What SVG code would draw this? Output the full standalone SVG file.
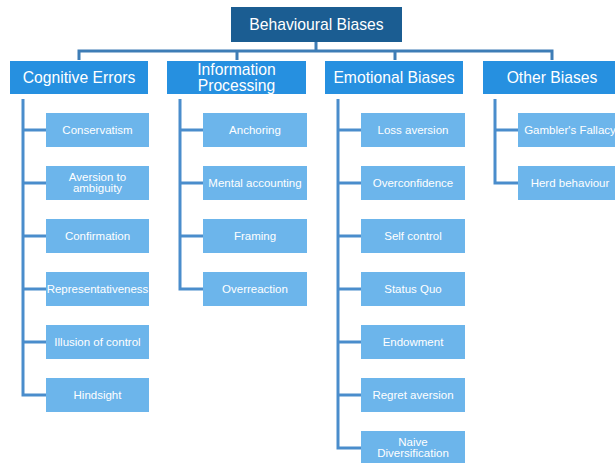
<svg xmlns="http://www.w3.org/2000/svg" width="615" height="463" viewBox="0 0 615 463">
<style>
text{font-family:"Liberation Sans",Arial,sans-serif;fill:#fff;text-anchor:middle}
.top rect{fill:#1b5d92}
.cat rect{fill:#2690e0}
.cat text,.top text{font-size:15.7px}
.leaf rect{fill:#6cb5eb}
.leaf text{font-size:11.5px}
.conn path{fill:none;stroke:#4a8dcc;stroke-width:3}
.conn .main{stroke:#3e7db6}
</style>
<rect width="615" height="463" fill="#fff"/>
<g class="conn" id="connectors">
<path class="main" d="M316,42V51M79,60V51H552V60M237,51V60M395,51V60"/>
<path d="M23,99V395H46M23,130H46M23,183H46M23,236H46M23,289H46M23,342H46"/>
<path d="M180,99V289H203M180,130H203M180,183H203M180,236H203"/>
<path d="M338,99V448H361M338,130H361M338,183H361M338,236H361M338,289H361M338,342H361M338,395H361"/>
<path d="M495,99V183H518M495,130H518"/>
</g>
<g class="top" id="behavioural-biases"><rect x="231" y="7" width="171" height="35"/><text x="316.5" y="30">Behavioural Biases</text></g>
<g class="cat" id="cognitive-errors"><rect x="10" y="61" width="138" height="33"/><text x="79" y="83">Cognitive Errors</text></g>
<g class="cat" id="information-processing"><rect x="167" y="61" width="139" height="33"/><text x="236.5" y="75">Information</text><text x="236.5" y="91">Processing</text></g>
<g class="cat" id="emotional-biases"><rect x="325" y="61" width="138" height="33"/><text x="394" y="83">Emotional Biases</text></g>
<g class="cat" id="other-biases"><rect x="483" y="61" width="140" height="33"/><text x="552" y="83">Other Biases</text></g>

<g class="leaf" id="conservatism"><rect x="46" y="113" width="103" height="34"/><text x="97.5" y="134">Conservatism</text></g>
<g class="leaf" id="aversion-to-ambiguity"><rect x="46" y="166" width="103" height="34"/><text x="97.5" y="181">Aversion to</text><text x="97.5" y="192">ambiguity</text></g>
<g class="leaf" id="confirmation"><rect x="46" y="219" width="103" height="34"/><text x="97.5" y="240">Confirmation</text></g>
<g class="leaf" id="representativeness"><rect x="46" y="272" width="103" height="34"/><text x="97.5" y="293">Representativeness</text></g>
<g class="leaf" id="illusion-of-control"><rect x="46" y="325" width="103" height="34"/><text x="97.5" y="346">Illusion of control</text></g>
<g class="leaf" id="hindsight"><rect x="46" y="378" width="103" height="34"/><text x="97.5" y="399">Hindsight</text></g>

<g class="leaf" id="anchoring"><rect x="203" y="113" width="104" height="34"/><text x="255" y="134">Anchoring</text></g>
<g class="leaf" id="mental-accounting"><rect x="203" y="166" width="104" height="34"/><text x="255" y="187">Mental accounting</text></g>
<g class="leaf" id="framing"><rect x="203" y="219" width="104" height="34"/><text x="255" y="240">Framing</text></g>
<g class="leaf" id="overreaction"><rect x="203" y="272" width="104" height="34"/><text x="255" y="293">Overreaction</text></g>

<g class="leaf" id="loss-aversion"><rect x="361" y="113" width="104" height="34"/><text x="413" y="134">Loss aversion</text></g>
<g class="leaf" id="overconfidence"><rect x="361" y="166" width="104" height="34"/><text x="413" y="187">Overconfidence</text></g>
<g class="leaf" id="self-control"><rect x="361" y="219" width="104" height="34"/><text x="413" y="240">Self control</text></g>
<g class="leaf" id="status-quo"><rect x="361" y="272" width="104" height="34"/><text x="413" y="293">Status Quo</text></g>
<g class="leaf" id="endowment"><rect x="361" y="325" width="104" height="34"/><text x="413" y="346">Endowment</text></g>
<g class="leaf" id="regret-aversion"><rect x="361" y="378" width="104" height="34"/><text x="413" y="399">Regret aversion</text></g>
<g class="leaf" id="naive-diversification"><rect x="361" y="431" width="104" height="34"/><text x="413" y="446">Naive</text><text x="413" y="457">Diversification</text></g>

<g class="leaf" id="gamblers-fallacy"><rect x="518" y="113" width="104" height="34"/><text x="570" y="134">Gambler's Fallacy</text></g>
<g class="leaf" id="herd-behaviour"><rect x="518" y="166" width="104" height="34"/><text x="570" y="187">Herd behaviour</text></g>
</svg>
